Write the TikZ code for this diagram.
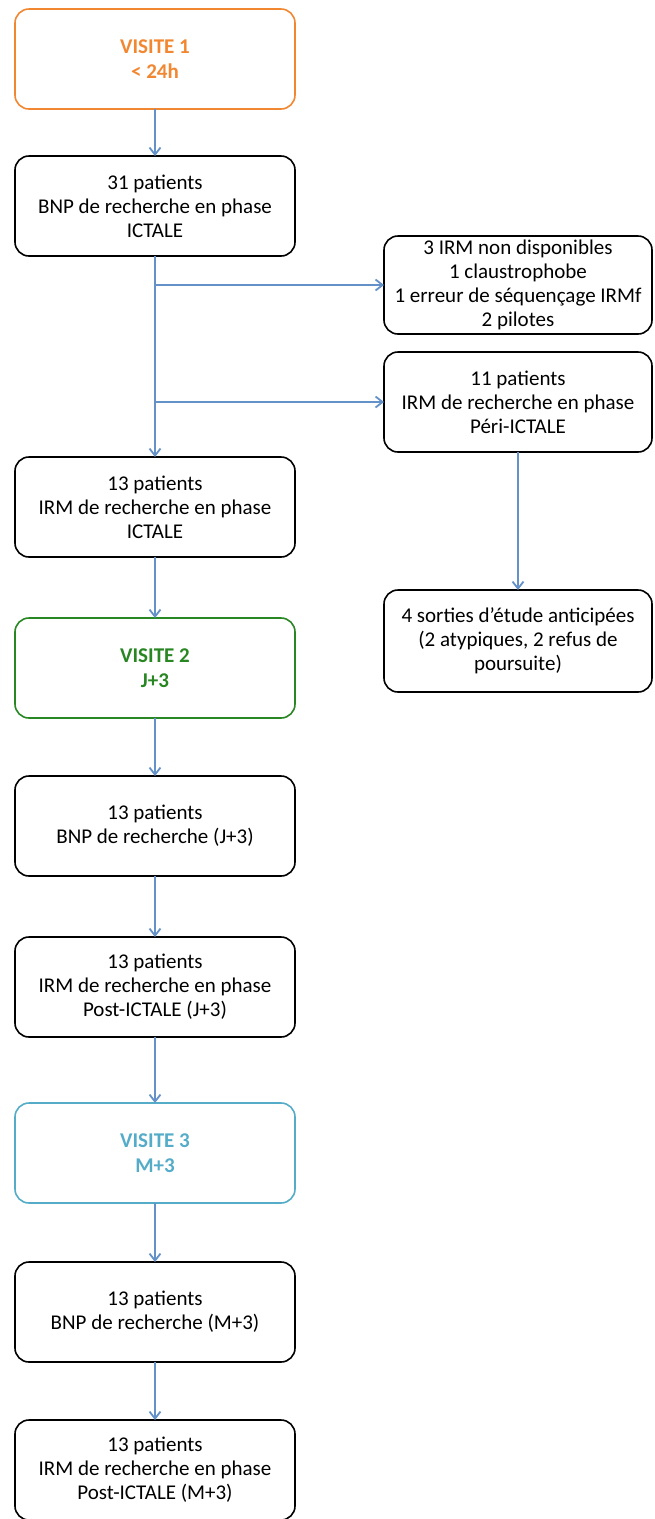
\documentclass[tikz,border=0pt]{standalone}
\usepackage{fontspec}
\setmainfont{Carlito}
\usetikzlibrary{positioning,arrows.meta}
\definecolor{visOrange}{RGB}{242,135,50}
\definecolor{visGreen}{RGB}{40,135,35}
\definecolor{visCyan}{RGB}{85,172,200}
\definecolor{flowBlue}{RGB}{100,145,200}
\begin{document}
\begin{tikzpicture}
[x=1pt,y=-1pt,
 every node/.style={draw=black,line width=1.6pt,rounded corners=14pt,align=center,
   inner sep=2pt,outer sep=0pt,font=\fontsize{21}{24}\selectfont},
 box/.style={minimum width=280pt,minimum height=100pt},
 side/.style={minimum width=268pt,minimum height=98pt},
 visit/.style={box,font=\fontsize{21}{25}\selectfont\bfseries},
 flow/.style={draw=flowBlue,line width=1.8pt,-{Straight Barb[length=7pt,width=11pt,line width=1.8pt]}}]
\useasboundingbox (0,0) rectangle (654,1519);
% colonne principale
\node[visit,draw=visOrange,text=visOrange] (v1) at (155,59) {VISITE 1\\< 24h};
\node[box] (bnpI)  [on grid,below=147pt of v1]   {31 patients\\BNP de recherche en phase\\ICTALE};
\node[box] (irmI)  [on grid,below=301pt of bnpI] {13 patients\\IRM de recherche en phase\\ICTALE};
\node[visit,draw=visGreen,text=visGreen] (v2) [on grid,below=161pt of irmI] {VISITE 2\\J+3};
\node[box] (bnpJ)  [on grid,below=158pt of v2]   {13 patients\\BNP de recherche (J+3)};
\node[box] (irmJ)  [on grid,below=161pt of bnpJ] {13 patients\\IRM de recherche en phase\\Post-ICTALE (J+3)};
\node[visit,draw=visCyan,text=visCyan] (v3) [on grid,below=166pt of irmJ] {VISITE 3\\M+3};
\node[box] (bnpM)  [on grid,below=159pt of v3]   {13 patients\\BNP de recherche (M+3)};
\node[box] (irmM)  [on grid,below=158pt of bnpM] {13 patients\\IRM de recherche en phase\\Post-ICTALE (M+3)};
% colonne de droite
\node[side] (excl) at (518,285) {3 IRM non disponibles\\1 claustrophobe\\1 erreur de séquençage IRMf\\2 pilotes};
\node[side,minimum height=100pt] (peri) [on grid,below=117pt of excl] {11 patients\\IRM de recherche en phase\\Péri-ICTALE};
\node[side,minimum height=102pt] (sort) [on grid,below=239pt of peri] {4 sorties d’étude anticipées\\(2 atypiques, 2 refus de\\poursuite)};
% liaisons
\coordinate (j1) at (bnpI.south |- excl.west);
\coordinate (j2) at (bnpI.south |- peri.west);
\path[flow] (v1)   edge (bnpI);
\path[flow] (bnpI) edge (irmI);
\draw[flow] (j1) -- (excl.west);
\draw[flow] (j2) -- (peri.west);
\path[flow] (peri) edge (sort);
\path[flow] (irmI) edge (v2);
\path[flow] (v2)   edge (bnpJ);
\path[flow] (bnpJ) edge (irmJ);
\path[flow] (irmJ) edge (v3);
\path[flow] (v3)   edge (bnpM);
\path[flow] (bnpM) edge (irmM);
\end{tikzpicture}
\end{document}
